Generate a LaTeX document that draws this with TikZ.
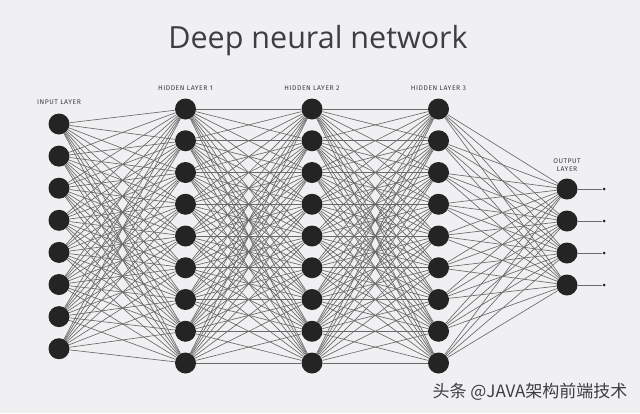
\documentclass[tikz,border=0pt]{standalone}
\usepackage{fontspec}
\setmainfont{Fira Sans}
\newfontfamily\titlefont{Open Sans}
\newfontfamily\cjkfont{Noto Sans CJK SC}
\usetikzlibrary{positioning, backgrounds}
\definecolor{bgcolor}{RGB}{240,240,242}
\definecolor{neuroncolor}{RGB}{36,36,36}
\definecolor{edgecolor}{RGB}{105,105,105}
\definecolor{textcolor}{RGB}{62,62,64}

\begin{document}
\begin{tikzpicture}[
    x=1pt, y=-1pt,
    neuron/.style={circle, fill=neuroncolor, minimum size=21pt, inner sep=0pt},
    outdot/.style={circle, fill=neuroncolor, minimum size=3pt, inner sep=0pt},
    synapse/.style={draw=edgecolor, line width=0.65pt},
    layerlabel/.style={font=\fontsize{6.8}{8}\selectfont\addfontfeatures{LetterSpace=8}, text=textcolor, align=center, inner sep=0pt}
]
    % Title
    \node[font=\titlefont\fontsize{30.5}{34}\selectfont, text=textcolor, anchor=base] (title) at (318,48) {Deep neural network};

    % Input layer
    \foreach \k in {1,...,8}
        \node[neuron] (i\k) at (59, {124+(\k-1)*32.1}) {};

    % Hidden layers
    \foreach \k in {1,...,9} {
        \node[neuron] (a\k) at (185.5, {109+(\k-1)*31.75}) {};
        \node[neuron] (b\k) at (312, {109+(\k-1)*31.75}) {};
        \node[neuron] (c\k) at (438.5, {109+(\k-1)*31.75}) {};
    }

    % Output layer
    \foreach \k in {1,...,4} {
        \node[neuron] (o\k) at (567, {189+(\k-1)*32}) {};
        \node[outdot] (e\k) at (604, {189+(\k-1)*32}) {};
    }

    % Layer labels
    \node[layerlabel, above=9pt of i1] (inlabel) {INPUT LAYER};
    \node[layerlabel, above=8pt of a1] (h1label) {HIDDEN LAYER 1};
    \node[layerlabel, above=8pt of b1] (h2label) {HIDDEN LAYER 2};
    \node[layerlabel, above=8pt of c1] (h3label) {HIDDEN LAYER 3};
    \node[layerlabel, above=7pt of o1] (outlabel) {OUTPUT\\LAYER};

    % Watermark
    \node[font=\cjkfont\fontsize{17}{20}\selectfont, text=textcolor, anchor=east] (mark) at (631,392) {头条 @JAVA架构前端技术};

    % Connections
    \begin{scope}[on background layer]
        \fill[bgcolor] (0,0) rectangle (640,413);
        \foreach \s in {1,...,8}
            \foreach \t in {1,...,9}
                \draw[synapse] (i\s) -- (a\t);
        \foreach \s in {1,...,9}
            \foreach \t in {1,...,9} {
                \draw[synapse] (a\s) -- (b\t);
                \draw[synapse] (b\s) -- (c\t);
            }
        \foreach \s in {1,...,9}
            \foreach \t in {1,...,4}
                \draw[synapse] (c\s) -- (o\t);
        \foreach \k in {1,...,4}
            \draw[synapse] (o\k) -- (e\k);
    \end{scope}
\end{tikzpicture}
\end{document}
